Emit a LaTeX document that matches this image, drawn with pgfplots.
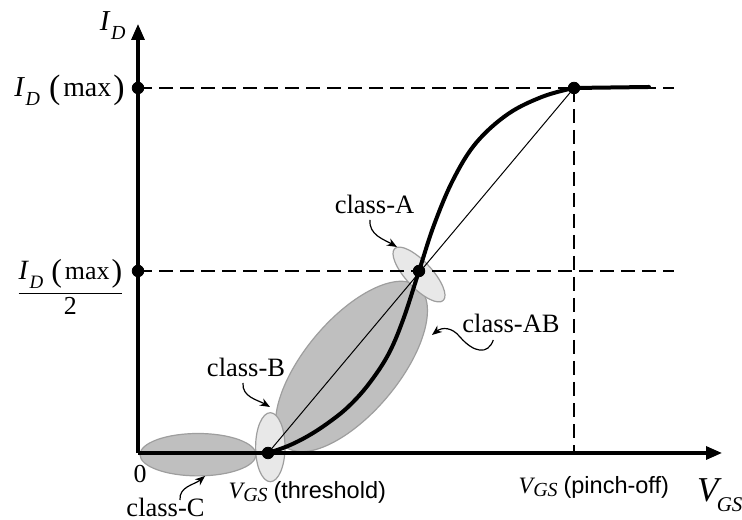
\documentclass[border=0pt]{standalone}
\usepackage{amsmath}
\usepackage{pgfplots}
\pgfplotsset{compat=1.18}
\usepackage{fontspec}
\setmainfont{Liberation Serif}
\newfontfamily\arial{Liberation Sans}
\usetikzlibrary{arrows.meta}

\definecolor{ellD}{gray}{0.75}
\definecolor{ellL}{gray}{0.91}
\definecolor{ellE}{gray}{0.62}

% I_D with given sizes: #1 = size of I, #2 = size of D
\newcommand{\ID}[2]{{\fontsize{#1}{#1}\selectfont\textit{I}}\kern0.3bp\raisebox{-4.5bp}{\fontsize{#2}{#2}\selectfont\textit{D}}}
\newcommand{\Par}[2]{\raisebox{-0.8bp}{\fontsize{#1}{#1}\selectfont#2}}
\newcommand{\VGS}{\textit{V}\kern-1bp\raisebox{-1.5bp}{\fontsize{10}{10}\selectfont\textit{GS}}}

\begin{document}
\begin{tikzpicture}
\begin{axis}[
  x=0.5bp, y=0.5bp,
  xmin=-138, xmax=604, ymin=-67, ymax=453,
  axis lines=none, clip=false,
]
\coordinate (BL) at (axis cs:-138,-67);
\coordinate (TR) at (axis cs:604,453);

% operating-region ellipses
\filldraw[fill=ellD, draw=ellE, line width=0.6bp] (axis cs:60,-1.7) ellipse [x radius=29bp, y radius=10.6bp];
\filldraw[fill=ellD, draw=ellE, line width=0.6bp, rotate around={50:(axis cs:213.5,86.5)}] (axis cs:213.5,86.5) ellipse [x radius=52bp, y radius=23.5bp];
\filldraw[fill=ellL, draw=ellE, line width=0.6bp] (axis cs:132.3,5.8) ellipse [x radius=7.35bp, y radius=17.25bp];
\filldraw[fill=ellL, draw=ellE, line width=0.6bp, rotate around={-47:(axis cs:281,178.5)}] (axis cs:281,178.5) ellipse [x radius=17.75bp, y radius=6.5bp];

% dashed guides
\addplot[line width=1.2bp, dash pattern=on 7bp off 3.5bp] coordinates {(0,365) (536,365)};
\addplot[line width=1.2bp, dash pattern=on 7bp off 3.5bp] coordinates {(0,182) (536,182)};
\addplot[line width=1.2bp, dash pattern=on 7bp off 3.5bp] coordinates {(436,365) (436,0)};

% chord
\addplot[line width=0.5bp] coordinates {(130,0) (436,365)};

% transfer curve
\addplot[line width=2bp, smooth, tension=0.6, line cap=round] coordinates {
 (130,0) (150,7) (170,17) (190,30) (210,46) (230,68) (250,98) (265,133)
 (281,182) (296,228) (315,273) (338,310) (370,339) (405,356.5) (436,365)};
\addplot[line width=2bp, line cap=round] coordinates {(436,365) (511,366)};

% axes
\addplot[line width=1.6bp, -{Triangle[length=8bp,width=6.5bp]}] coordinates {(0,0) (584,0)};
\addplot[line width=1.6bp, -{Triangle[length=8bp,width=6.5bp]}] coordinates {(0,0) (0,429)};

% points
\addplot[only marks, mark=*, mark size=2.9bp, black] coordinates {(0,365) (0,182) (130,0) (281,182) (436,365)};

% arrows to labels
\draw[line width=0.6bp, -{Stealth[length=5bp,width=4bp]}] (axis cs:232,233) to[out=-95,in=150] (axis cs:259,206);
\draw[line width=0.6bp, -{Stealth[length=5bp,width=4bp]}] (axis cs:105,70) to[out=-95,in=150] (axis cs:132,46);
\draw[line width=0.6bp, -{Stealth[length=5bp,width=4bp]}] (axis cs:42,-47) to[out=95,in=-140] (axis cs:67,-23);
\draw[line width=0.6bp, -{Stealth[length=5bp,width=4bp]}] (axis cs:355.3,113) .. controls (350,98) and (336,100) .. (322,116) .. controls (314,126) and (304,126) .. (294,118);

% labels
\node[anchor=base, inner sep=0, font=\fontsize{13.3}{16}\selectfont] at (axis cs:236.5,239) {class-A};
\node[anchor=base, inner sep=0, font=\fontsize{13.3}{16}\selectfont] at (axis cs:373,120) {class-AB};
\node[anchor=base, inner sep=0, font=\fontsize{13.3}{16}\selectfont] at (axis cs:108,76) {class-B};
\node[anchor=base, inner sep=0, font=\fontsize{13.3}{16}\selectfont] at (axis cs:27.5,-63.7) {class-C};
\node[anchor=base, inner sep=0, font=\fontsize{13}{15}\selectfont] at (axis cs:2,-30) {0};

\node[anchor=base west, inner sep=0, font=\fontsize{11.8}{14}\selectfont] at (axis cs:90.3,-45.3) {\VGS\ {\arial (threshold)}};
\node[anchor=base west, inner sep=0, font=\fontsize{11.8}{14}\selectfont] at (axis cs:380.3,-40.3) {\VGS\ {\arial (pinch-off)}};
\node[anchor=base west, inner sep=0, font=\fontsize{17.5}{20}\selectfont] at (axis cs:558.7,-48.7) {\textit{V}\kern-2.5bp\raisebox{-5bp}{\fontsize{10.5}{10.5}\selectfont\textit{GS}}};

\node[anchor=base east, inner sep=0, font=\fontsize{13}{15}\selectfont] at (axis cs:-12,422.3) {\ID{14.5}{10}};
\node[anchor=base east, inner sep=0, font=\fontsize{14}{15}\selectfont] at (axis cs:-13,356.3) {\ID{14.5}{10}\kern4.5bp\Par{17}{(}\kern1.5bp max\kern1bp\Par{17}{)}};
\node[anchor=east, inner sep=0] at (axis cs:-13,166) {$\displaystyle\genfrac{}{}{0.65bp}{0}{\hbox{\fontsize{13}{14}\selectfont\ID{14}{9.5}\kern4bp\Par{16}{(}\kern1.5bp max\kern1bp\Par{16}{)}}}{\hbox{\fontsize{13}{15}\selectfont 2}}$};
\end{axis}
\pgfresetboundingbox
\path (BL) rectangle (TR);
\end{tikzpicture}
\end{document}
